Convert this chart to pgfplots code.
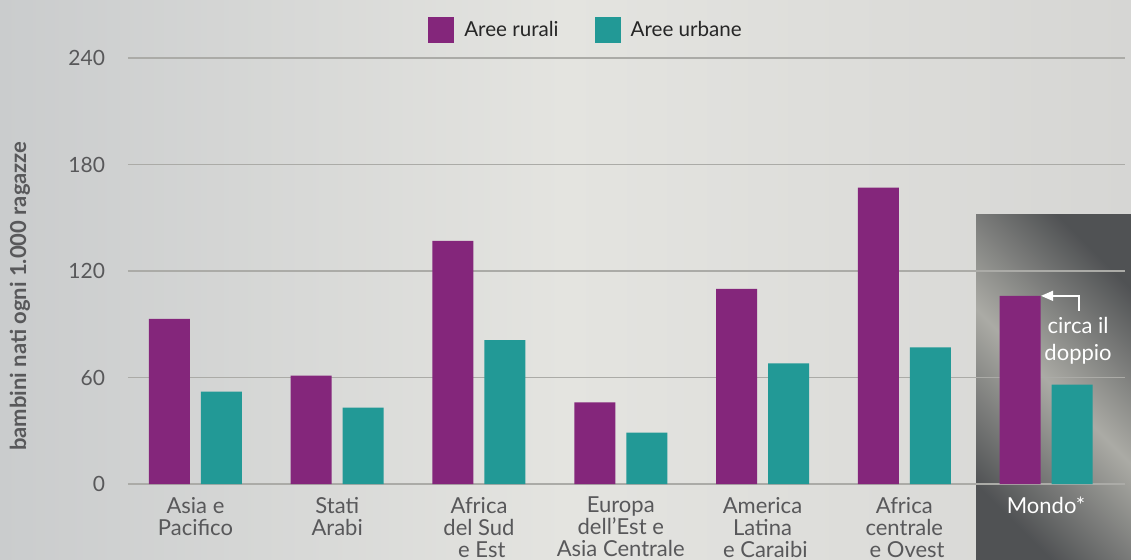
\documentclass[border=0pt]{standalone}
\usepackage{pgfplots}
\pgfplotsset{compat=1.18}
\usepackage{fontspec}
\setmainfont{Lato}
\usetikzlibrary{arrows.meta}

\definecolor{rurali}{HTML}{84267B}
\definecolor{urbane}{HTML}{229996}
\definecolor{testo}{HTML}{58585A}
\definecolor{griglia}{HTML}{ABABA7}
\definecolor{bgL}{HTML}{CACCCD}
\definecolor{bgM}{HTML}{E4E4E0}
\definecolor{bgR}{HTML}{D6D6D4}
\definecolor{scuro}{HTML}{505254}
\definecolor{chiaro}{HTML}{ABABA5}

\begin{document}
\begin{tikzpicture}
% 1 px of the reference = 0.5pt
\useasboundingbox (-64pt,-37.5pt) rectangle (501.5pt,242pt);
\shade[left color=bgL, right color=bgR, middle color=bgM] (-64pt,-37.5pt) rectangle (501.5pt,242pt);
% Mondo panel
\shade[top color=scuro, bottom color=scuro, middle color=chiaro, shading angle=-45] (424pt,-37.5pt) rectangle (501.5pt,135pt);
\begin{axis}[
 at={(0,0)}, anchor=south west,
 scale only axis, width=498.5pt, height=213pt,
 xmin=-0.476, xmax=6.557,
 ymin=0, ymax=240,
 ytick={0,60,...,240},
 xtick={0,...,6},
 xticklabels={{Asia e\\Pacifico}, {Stati\\Arabi}, {Africa\\del Sud\\\ e Est}, {Europa\\dell’Est e\\Asia Centrale}, {America\\Latina\\\ e Caraibi}, {Africa\\centrale\\\ e Ovest}, {\color{white}Mondo*}},
 xticklabel style={align=center, font=\fontsize{11}{11}\selectfont, text=testo, yshift=-3pt},
 yticklabel style={font=\fontsize{10.5}{11}\selectfont, text=testo, xshift=-8pt},
 /pgf/number format/assume math mode=true,
 major tick length=0pt,
 axis line style={draw=none},
 ymajorgrids, grid style={griglia, line width=0.7pt},
 ylabel={\bfseries bambini nati ogni 1.000 ragazze},
 every axis y label/.style={at={(axis description cs:-0.1083,0.441)}, rotate=90, anchor=center, font=\fontsize{11}{12}\selectfont, text=testo},
 ybar=5.5pt, bar width=20.5pt,
 legend style={at={(axis description cs:0.4604,1.0657)}, anchor=center, draw=none, fill=none,
   font=\fontsize{10.3}{12}\selectfont, text=black!85, legend columns=2,
   /tikz/every even column/.append style={column sep=16pt}},
 legend image code/.code={\fill (0pt,-6.5pt) rectangle (13pt,6.5pt);},
]
\addplot[draw=none, fill=rurali] coordinates {(0,93) (1,61) (2,137) (3,46) (4,110) (5,167) (6,106)};
\addplot[draw=none, fill=urbane] coordinates {(0,52) (1,43) (2,81) (3,29) (4,68) (5,77) (6,56)};
\legend{\hspace{3pt}Aree rurali, \hspace{3pt}Aree urbane}
\draw[white, line width=0.8pt, -{Triangle[length=6pt, width=5pt]}] (axis cs:6.233,97.5) -- (axis cs:6.233,106) -- (axis cs:5.965,106);
\node[white, align=center, font=\fontsize{11}{13.5}\selectfont] at (axis cs:6.226,80.6) {circa il\\doppio};
\end{axis}
\end{tikzpicture}
\end{document}
